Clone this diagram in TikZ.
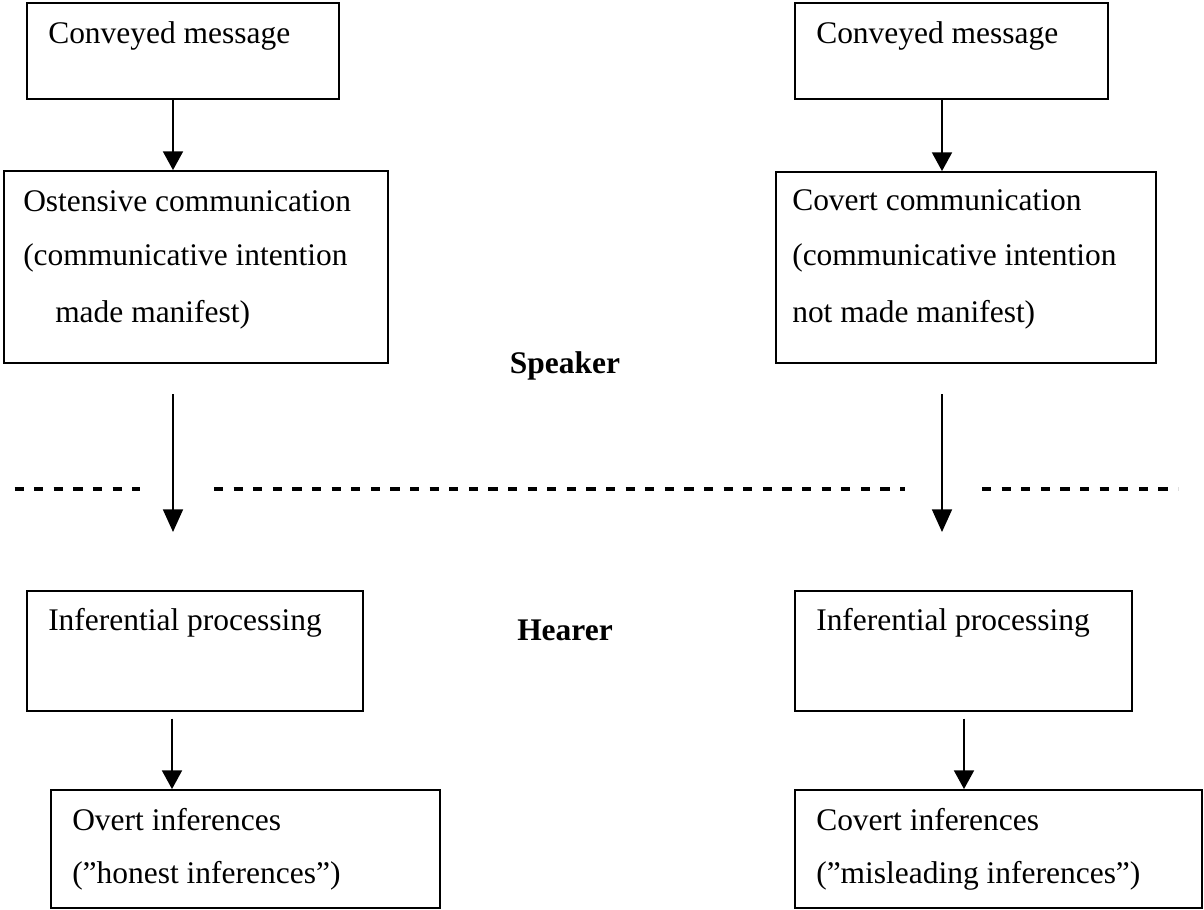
\documentclass[tikz,border=0pt]{standalone}
\usepackage{fontspec}
\setmainfont{Liberation Serif}
\usetikzlibrary{arrows.meta,fit}
\begin{document}
\begin{tikzpicture}[x=0.75pt,y=-0.75pt,
  box/.style={draw, line width=1.4pt, inner sep=0pt},
  txt/.style={anchor=base west, inner sep=0pt, font=\fontsize{23.6}{28}\selectfont},
  lbl/.style={anchor=base, inner sep=0pt, font=\fontsize{23.6}{28}\selectfont\bfseries},
  arr/.style={line width=1.3pt, -{Triangle[width=15pt,length=14pt]}},
  longarr/.style={line width=1.3pt, -{Triangle[width=15pt,length=17pt]}},
  sep/.style={line width=2.4pt, dash pattern=on 6.9pt off 7.8pt}]
\useasboundingbox (0,0) rectangle (1204,910);

% ---- top row boxes
\coordinate (cla) at (27,3);   \coordinate (clb) at (339,99);
\node[box, fit=(cla)(clb)] (cl) {};
\node[txt] (tcl) at (48,43) {Conveyed message};

\coordinate (cra) at (795,3);  \coordinate (crb) at (1108,99);
\node[box, fit=(cra)(crb)] (cr) {};
\node[txt] (tcr) at (816,43) {Conveyed message};

% ---- speaker boxes
\coordinate (osa) at (4,171);  \coordinate (osb) at (388,363);
\node[box, fit=(osa)(osb)] (ost) {};
\node[txt] (to1) at (23,211) {Ostensive communication};
\node[txt] (to2) at (23,265) {(communicative intention};
\node[txt] (to3) at (55,322) {made manifest)};

\coordinate (cva) at (776,172); \coordinate (cvb) at (1156,363);
\node[box, fit=(cva)(cvb)] (cov) {};
\node[txt] (tc1) at (792,210) {Covert communication};
\node[txt] (tc2) at (792,265) {(communicative intention};
\node[txt] (tc3) at (792,322) {not made manifest)};

\node[lbl] (spk) at (565,373) {Speaker};

% ---- arrows top
\coordinate (ax1) at (173,0);
\coordinate (ax2) at (942,0);
\draw[arr] (ax1 |- cl.south) -- (ax1 |- ost.north);
\draw[arr] (ax2 |- cr.south) -- (ax2 |- cov.north);

% ---- middle arrows and separator
\coordinate (m1s) at (173,394); \coordinate (m1e) at (173,532);
\coordinate (m2s) at (942,394); \coordinate (m2e) at (942,532);
\draw[longarr] (m1s) -- (m1e);
\draw[longarr] (m2s) -- (m2e);

\coordinate (d1) at (14.5,489); \coordinate (d2) at (140,489);
\coordinate (d3) at (214,489);  \coordinate (d4) at (905,489);
\coordinate (d5) at (982,489);  \coordinate (d6) at (1178,489);
\draw[sep] (d1) -- (d2);
\draw[sep] (d3) -- (d4);
\draw[sep] (d5) -- (d6);

% ---- hearer boxes
\coordinate (ila) at (27,591);  \coordinate (ilb) at (363,711);
\node[box, fit=(ila)(ilb)] (infl) {};
\node[txt] (ti1) at (48,630) {Inferential processing};

\coordinate (ira) at (795,591); \coordinate (irb) at (1132,711);
\node[box, fit=(ira)(irb)] (infr) {};
\node[txt] (ti2) at (816,630) {Inferential processing};

\node[lbl] (hr) at (565,640) {Hearer};

\coordinate (ova) at (51,790);  \coordinate (ovb) at (440,908);
\node[box, fit=(ova)(ovb)] (ovl) {};
\node[txt] (tv1) at (72,830) {Overt inferences};
\node[txt] (tv2) at (72,883) {(”honest inferences”)};

\coordinate (cia) at (795,790); \coordinate (cib) at (1202,908);
\node[box, fit=(cia)(cib)] (cir) {};
\node[txt] (tm1) at (816,830) {Covert inferences};
\node[txt] (tm2) at (816,883) {(”misleading inferences”)};

% ---- arrows bottom
\coordinate (ax3) at (172,0);
\coordinate (ax4) at (964,0);
\draw[arr, shorten <=5pt] (ax3 |- infl.south) -- (ax3 |- ovl.north);
\draw[arr, shorten <=5pt] (ax4 |- infr.south) -- (ax4 |- cir.north);
\end{tikzpicture}
\end{document}
